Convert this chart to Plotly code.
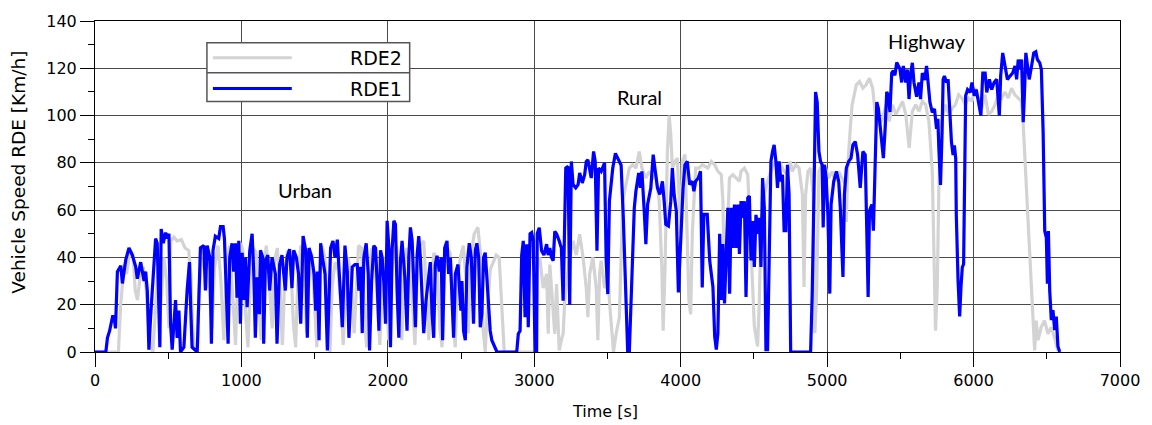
import plotly.graph_objects as go

# RDE1 (blue) — time [s], speed [km/h]
rde1_t = [0, 74, 85, 100, 120, 130, 140, 153, 176, 187, 210, 232, 255, 278, 289, 312, 335, 346, 357, 368,
          380, 391, 402, 414, 425, 436, 443, 452, 466, 482, 493, 505, 516, 527, 550, 561, 573, 584, 607, 629,
          645, 652, 663, 698, 720, 743, 754, 766, 784, 795, 806, 822, 845, 857, 875, 884, 896, 909, 920, 936,
          947, 959, 970, 982, 993, 1005, 1016, 1027, 1039, 1057, 1073, 1084, 1095, 1107, 1123, 1130, 1146, 1152, 1164, 1180,
          1193, 1209, 1232, 1243, 1261, 1277, 1300, 1311, 1329, 1345, 1357, 1375, 1390,
          1405, 1421, 1439, 1450, 1462, 1480, 1496, 1507, 1519, 1530, 1541, 1553, 1571, 1587, 1609, 1625, 1639, 1655, 1673, 1689,
          1707, 1723, 1734, 1757, 1775, 1791, 1802, 1814, 1825, 1836, 1852, 1866, 1875, 1889, 1904, 1916, 1927, 1939, 1950, 1961,
          1973, 1984, 1995, 2007, 2018, 2029, 2041, 2052, 2063, 2075, 2086, 2097, 2116, 2131, 2143, 2154, 2166, 2177, 2188, 2200,
          2211, 2222, 2234, 2245, 2261, 2279, 2290, 2302, 2313, 2324, 2336, 2352, 2365, 2374, 2388, 2404, 2415, 2427, 2438, 2449,
          2461, 2479, 2490, 2499, 2506, 2517, 2529, 2540, 2556, 2570, 2585, 2597, 2608, 2620, 2631, 2642, 2654, 2665, 2676, 2688,
          2699, 2710, 2722, 2733, 2745,
          2880, 2891, 2903, 2914, 2925, 2937, 2948, 2959, 2971, 2982, 2993, 3005, 3016, 3020, 3034, 3050, 3066, 3084, 3095, 3106,
          3118, 3129, 3140, 3152, 3170, 3185, 3197, 3208, 3215, 3231, 3242, 3253, 3265, 3283, 3299, 3310, 3328, 3344, 3355, 3366,
          3378, 3389, 3405, 3416, 3428, 3439, 3457, 3480, 3491, 3502, 3513, 3536, 3554, 3577, 3593, 3608, 3622, 3638, 3649, 3660,
          3672, 3683, 3694, 3713, 3724, 3735, 3751, 3762, 3774, 3785, 3796, 3812, 3826, 3841, 3857, 3875, 3887, 3898, 3916, 3932,
          3943, 3955, 3970, 3984, 4000, 4016, 4029, 4045, 4061, 4079, 4090, 4102, 4120, 4135, 4147, 4158, 4181,
          4198, 4209, 4220, 4232, 4243, 4254, 4266, 4277, 4288, 4299, 4311, 4322, 4334, 4345, 4356, 4367, 4379, 4390, 4401, 4412,
          4424, 4435, 4446, 4458, 4469, 4480, 4491, 4503, 4514, 4530, 4537, 4548, 4559, 4571, 4582, 4593, 4604, 4616, 4627, 4638,
          4650, 4661, 4672, 4684, 4695, 4706, 4718, 4729, 4740, 4751, 4887, 4898, 4910, 4921, 4932, 4944, 4955, 4966, 4973, 4982,
          4993, 5005, 5018, 5027, 5045, 5063, 5079, 5090, 5108, 5118, 5131, 5147, 5163, 5176, 5192, 5208, 5226, 5244, 5260, 5271,
          5280, 5289, 5305, 5316, 5328, 5339, 5350, 5362, 5373, 5384, 5396, 5407, 5418, 5429, 5441, 5452, 5463, 5475, 5497, 5509,
          5520, 5537, 5548, 5559, 5571, 5582, 5593, 5611, 5627, 5638, 5650, 5666, 5679, 5688, 5702, 5718, 5733, 5747, 5756, 5763,
          5774, 5785, 5792, 5801, 5815, 5826, 5837, 5849, 5860, 5869, 5878, 5882, 5894, 5905, 5914, 5923, 5932, 5939, 5946, 5959,
          5977, 5989, 6005, 6018, 6034, 6050, 6063, 6079, 6090, 6108, 6124, 6140, 6158, 6176, 6185, 6199, 6215, 6231, 6249, 6267,
          6283, 6294, 6305, 6316, 6328, 6339, 6346, 6357, 6366, 6380, 6396, 6411, 6425, 6436, 6452, 6463, 6475, 6486, 6497, 6504,
          6511, 6520, 6531, 6542, 6554, 6565, 6576, 6588]
rde1_v = [0, 0, 6, 9, 15, 15, 10, 34, 36.5, 29, 39, 44, 41, 36, 31, 38, 30, 34, 26, 1,
          15, 25, 39, 48, 46, 10, 2, 52, 46, 50.5, 48, 50, 12, 1, 22, 6, 17.5, 0, 2, 26,
          38, 22, 2, 0, 44, 45, 26, 45, 40, 3.5, 43, 49, 48, 53, 53, 48, 29, 3.5, 40, 46,
          34, 46, 23, 47, 12, 42, 22, 40, 19, 43, 50, 34, 6, 31.6, 16, 43, 40, 3.5, 38.6, 41,
          26, 40, 33, 3.5, 37, 41, 26, 40, 43.5, 27, 43, 40, 33,
          12, 49, 43, 6, 44, 40, 33, 17.5, 34, 5, 46, 40, 33, 0.7, 44, 47, 40, 47.5, 29, 10.5,
          45, 34, 6, 36, 37, 37, 26, 36, 8, 40, 46, 33, 0.7, 30, 45, 44, 29, 9, 43, 40,
          29, 12, 55.5, 44, 2, 43, 55.5, 54, 26, 6, 38.6, 47, 31.6, 9, 40, 52.7, 47, 26, 10.5, 41,
          49, 40, 24.7, 8, 22, 33, 38, 16, 6, 37, 40.7, 34, 40, 5, 44, 47, 33, 40, 26, 6,
          33, 37, 26, 17.5, 30, 9, 5, 36, 46, 40, 12, 43, 46, 40, 10.5, 16, 40, 42, 31.6, 22,
          9, 5, 3.5, 2, 0,
          0, 7.7, 9, 41, 47, 14.7, 45.6, 10.5, 50, 50.5, 47, 0, 0, 50, 52.6, 42.8, 41, 45.6, 41, 44,
          40, 38.6, 51, 50, 47, 44, 21.7, 63.8, 77.8, 78.5, 20, 80.6, 70.8, 69.4, 70.8, 75.7, 71.5, 75, 80.6, 81.3,
          77.8, 73.6, 84.8, 80.6, 42.8, 77.8, 76.4, 80, 38.6, 24.5, 63.8, 77.8, 84, 80.6, 79, 56.8, 24.5, 0, 0, 21.7,
          45.6, 61, 68, 75.7, 69.4, 76.4, 59.6, 45.6, 62.4, 66.6, 69.4, 83.5, 76.4, 69.4, 66.6, 72.2, 63.8, 54, 53.3, 63.8,
          77.8, 66.6, 59.6, 25.2, 47, 69.4, 79.2, 80.6, 70.8, 72.2, 68, 72.2, 73.6, 76.4, 27.3, 58.2, 58.2,
          38.7, 33, 27.5, 6.6, 1, 8, 50, 22, 45.7, 20.5, 38.7, 61, 24.7, 61, 44, 62.4, 44, 62.4, 41.5, 63.8,
          56.8, 63.8, 23.3, 65.2, 66, 38.7, 55.4, 36, 58, 50, 56.8, 36, 73.6, 61, 1, 1, 38.7, 80.6, 84.8, 87.6,
          80.6, 69.4, 80.6, 72.2, 75, 51.3, 51.3, 79.2, 66.6, 0, 0, 24.7, 66.6, 110, 105.7, 84.8, 80.6, 79.2, 52.7, 79.2,
          73.6, 58.2, 24.7, 62.4, 72.2, 76.4, 72.2, 61, 31.7, 66.6, 77.8, 80.6, 82, 87.6, 89, 83.4, 69.4, 84.8, 83.4, 38.7,
          23.3, 59.6, 62.4, 51.3, 80.6, 105.7, 103, 94.5, 86, 82, 94.5, 110, 108.5, 101.5, 118, 119, 117, 122.5, 119.7, 114,
          121, 114, 119.5, 107, 118, 122.3, 114, 108, 114, 107, 118, 115, 121, 114, 105.6, 101.4, 102.8, 94.4, 98.6, 86,
          70.7, 93, 115.3, 116.7, 114, 115.3, 100, 88.8, 83.3, 87.4, 81.9, 58.2, 30.3, 15, 27.5, 35.8, 37.2, 79, 108.4, 111,
          109.8, 114, 108.4, 111, 105.6, 100, 118, 118, 109.8, 115.3, 111, 114, 115.3, 100, 116.7, 126.5, 121, 115.3, 116.7, 118,
          121, 115.3, 123.7, 119.5, 123.7, 97.2, 107, 126.5, 122.3, 115.3, 121, 126.5, 127, 123.7, 122.3, 119.5, 93, 51.2, 48.4, 28.9,
          51.2, 26, 13.5, 17.7, 9.3, 15, 2.4, 0]

# RDE2 (grey) — time [s], speed [km/h]
rde2_t = [0, 160, 175, 190, 200, 215, 240, 260, 275, 290, 310, 330, 350, 365, 380, 395, 410, 430, 450, 470,
          490, 505, 517, 540, 560, 590, 615, 640, 655, 665, 680, 700, 710, 730, 760, 780, 800, 815, 840, 860,
          880, 900, 920, 945, 960, 975, 995, 1010, 1030, 1045, 1060, 1080, 1100, 1120, 1135, 1150, 1170, 1190, 1210, 1225,
          1245, 1265, 1280, 1295, 1315, 1335, 1355, 1370, 1385, 1405, 1425, 1445, 1460, 1480, 1500, 1515, 1530, 1550, 1570, 1590,
          1605, 1620, 1640, 1660, 1680, 1695, 1710, 1730, 1750, 1770, 1785, 1800, 1820, 1840, 1855, 1870, 1890, 1910, 1930, 1945,
          1960, 1975, 1990, 2005, 2020, 2040, 2060, 2080, 2095, 2110, 2130, 2150, 2170, 2185, 2200, 2220, 2245, 2265, 2280, 2295,
          2315, 2335, 2355, 2370, 2385, 2405, 2425, 2445, 2460, 2475, 2495, 2515, 2535, 2550, 2565, 2590, 2615, 2635, 2650, 2665,
          2680, 2700, 2720, 2740, 2760, 2770, 2785, 2795, 3010, 3020, 3038, 3061, 3084, 3095, 3106, 3118, 3140, 3152, 3170, 3185,
          3197, 3208, 3242, 3265, 3287, 3310, 3333, 3355, 3366, 3378, 3400, 3423, 3434, 3446, 3457, 3480, 3502, 3513, 3532, 3541,
          3559, 3581, 3604, 3627, 3649, 3672, 3694, 3717, 3735, 3762, 3785, 3808, 3830, 3853, 3871, 3880, 3893, 3909, 3921, 3932,
          3943, 3961, 3977, 4000, 4011, 4029, 4056, 4068, 4079, 4102, 4124, 4147, 4186, 4209, 4232, 4254, 4277, 4288, 4299, 4311,
          4333, 4356, 4379, 4401, 4412, 4435, 4458, 4469, 4480, 4492, 4503, 4514, 4525, 4537, 4548, 4571, 4593, 4616, 4638, 4661,
          4684, 4706, 4729, 4747, 4763, 4785, 4808, 4831, 4842, 4853, 4869, 4887, 4905, 4916, 4928, 4944, 4966, 4989, 5011, 5034,
          5056, 5079, 5102, 5124, 5131, 5140, 5158, 5170, 5199, 5221, 5244, 5266, 5289, 5311, 5334, 5357, 5379, 5402, 5424, 5447,
          5469, 5492, 5515, 5537, 5560, 5582, 5605, 5627, 5650, 5673, 5695, 5718, 5729, 5740, 5752, 5763, 5781, 5808, 5831, 5853,
          5876, 5898, 5921, 5943, 5966, 5989, 6011, 6034, 6056, 6079, 6101, 6124, 6147, 6169, 6192, 6214, 6237, 6259, 6282, 6305,
          6327, 6338, 6350, 6361, 6372, 6383, 6395, 6406, 6417, 6428, 6440, 6462, 6485, 6508, 6530, 6552, 6575]
rde2_v = [0, 0, 20, 30, 37, 33, 43, 41, 26, 22, 33, 36, 26, 12, 2, 0, 15, 35, 20, 40,
          30, 10, 47, 48.6, 47, 47.5, 44, 43, 33, 12, 0.7, 2, 26, 40, 33, 26, 10, 35, 45, 30,
          5, 38, 45, 20, 3, 35, 46, 43, 15, 2, 30, 44, 42, 20, 5, 35, 45, 30, 10, 38,
          44, 25, 3, 30, 43, 40, 12, 2, 30, 45, 38, 8, 30, 42, 20, 2, 33, 45, 40, 15,
          0, 28, 38, 35, 20, 3, 25, 40, 30, 8, 30, 45, 44, 15, 2, 30, 44, 40, 20, 3,
          25, 40, 28, 5, 30, 42, 45, 25, 5, 35, 44, 40, 20, 3, 30, 45, 47, 25, 5, 30,
          42, 38, 10, 2, 35, 44, 42, 15, 2, 30, 40, 45, 30, 8, 40, 50, 52.7, 40, 10, 0,
          20, 35, 38, 41, 40, 30, 10, 0, 0, 36, 40, 27, 33, 7.7, 37, 27, 7.7, 28.7, 0.7, 5,
          7.7, 21.7, 40, 47, 41, 49.8, 40, 27, 14.7, 33, 40, 27, 5, 33, 38.6, 27, 35.8, 21.7, 3.5, 0,
          7.7, 14.7, 63.8, 70.8, 77.8, 79.2, 77.8, 84.8, 77.8, 73.6, 76.4, 73.6, 75, 63.8, 35.8, 9, 35.8, 84.8, 100, 91.9,
          77.8, 80.6, 82, 50, 80.6, 83.5, 21.7, 16, 50, 77.8, 77.8, 79.2, 77.8, 80.6, 79.2, 76.4, 75, 63.8, 24.7, 38.7,
          73.6, 75, 73.6, 72.2, 76.4, 77.8, 75, 59.6, 38.7, 24.7, 10.8, 6.6, 2.4, 22, 52.7, 66.6, 72.2, 76.4, 80.6, 77.8,
          79.2, 76.4, 75, 80.6, 76.4, 79.2, 77.8, 66.6, 27.5, 66.6, 76.4, 77.8, 66.6, 8, 24.7, 76.4, 79.2, 77.8, 73.6, 76.4,
          72.2, 76.4, 73.6, 70.8, 55, 77.8, 94.5, 104.3, 113, 114.4, 111.6, 113, 115.8, 111.6, 97.5, 96, 99, 104.6, 97.5, 104.6,
          100.4, 103, 106, 100.4, 86.3, 101.8, 104.6, 101.8, 106, 104.6, 97.5, 76.5, 41.4, 9, 27.4, 69.5, 97.5, 104.6, 100.4, 103,
          104.6, 108.8, 107.4, 104.6, 107.4, 106, 111.6, 107.4, 103, 108.8, 100.4, 101.8, 104.6, 108.8, 107.4, 110, 107.4, 111.6, 108.8, 107.4,
          106, 97.5, 83.5, 69.5, 55.4, 41.4, 27.4, 13.3, 0.7, 13.3, 5, 10.5, 13.3, 7.7, 10.5, 6.3, 0.7]

x_ticks = [0, 1000, 2000, 3000, 4000, 5000, 6000, 7000]
y_ticks = [0, 20, 40, 60, 80, 100, 120, 140]
series_names = ["RDE2", "RDE1"]
series_colors = ["#d3d3d3", "#0000ff"]
phase_labels = ["Urban", "Rural", "Highway"]
phase_t = [1432, 3718, 5682]
phase_v = [68.7, 108, 131.6]

fig = go.Figure()
fig.add_trace(go.Scatter(x=rde2_t, y=rde2_v, mode="lines", name=series_names[0],
                         line=dict(color=series_colors[0], width=3.2), showlegend=False))
fig.add_trace(go.Scatter(x=rde1_t, y=rde1_v, mode="lines", name=series_names[1],
                         line=dict(color=series_colors[1], width=3.2), showlegend=False))

grid_col = "#4a4a4a"
fig.update_xaxes(range=[0, 7000], tickvals=x_ticks, ticktext=[str(v) for v in x_ticks],
                 showgrid=True, gridcolor=grid_col, gridwidth=1, zeroline=False,
                 showline=True, linecolor="black", linewidth=1, mirror=True,
                 ticks="outside", ticklen=14, tickcolor="black",
                 minor=dict(dtick=500, ticks="outside", ticklen=6, tickcolor="black", showgrid=False),
                 tickfont=dict(family="DejaVu Sans", size=16, color="black"))
fig.update_yaxes(range=[0, 140], tickvals=y_ticks, ticktext=[str(v) for v in y_ticks],
                 showgrid=True, gridcolor=grid_col, gridwidth=1, zeroline=False,
                 showline=True, linecolor="black", linewidth=1, mirror=True,
                 ticks="outside", ticklen=14, tickcolor="black",
                 minor=dict(dtick=10, ticks="outside", ticklen=6, tickcolor="black", showgrid=False),
                 tickfont=dict(family="DejaVu Sans", size=16, color="black"))

annotations = []
for lab, t, v in zip(phase_labels, phase_t, phase_v):
    annotations.append(dict(x=t, y=v, xref="x", yref="y", text=lab, showarrow=False,
                            xanchor="center", yanchor="middle",
                            font=dict(family="Lato", size=20, color="black")))
# axis titles
annotations.append(dict(x=0.498, y=-0.18, xref="paper", yref="paper", text="Time [s]", showarrow=False,
                        xanchor="center", yanchor="middle",
                        font=dict(family="DejaVu Sans", size=16, color="black")))
annotations.append(dict(x=-0.075, y=0.542, xref="paper", yref="paper", text="Vehicle Speed RDE [Km/h]",
                        textangle=-90, showarrow=False, xanchor="center", yanchor="middle",
                        font=dict(family="DejaVu Sans", size=18.5, color="black")))

# custom legend box
lx0, lx1, ly0, ly1, ymid = 0.1092, 0.307, 0.757, 0.934, 0.844
shapes = [
    dict(type="rect", xref="paper", yref="paper", x0=lx0, x1=lx1, y0=ly0, y1=ly1,
         fillcolor="white", line=dict(color="#555555", width=1.5), layer="above"),
    dict(type="line", xref="paper", yref="paper", x0=lx0, x1=lx1, y0=ymid, y1=ymid,
         line=dict(color="#555555", width=1.5), layer="above"),
    dict(type="line", xref="paper", yref="paper", x0=0.115, x1=0.192, y0=0.889, y1=0.889,
         line=dict(color=series_colors[0], width=3), layer="above"),
    dict(type="line", xref="paper", yref="paper", x0=0.115, x1=0.192, y0=0.796, y1=0.796,
         line=dict(color=series_colors[1], width=3), layer="above"),
]
annotations.append(dict(x=0.301, y=0.889, xref="paper", yref="paper", text=series_names[0],
                        xanchor="right", yanchor="middle", showarrow=False,
                        font=dict(family="DejaVu Sans", size=19, color="black")))
annotations.append(dict(x=0.301, y=0.796, xref="paper", yref="paper", text=series_names[1],
                        xanchor="right", yanchor="middle", showarrow=False,
                        font=dict(family="DejaVu Sans", size=19, color="black")))

fig.update_layout(width=1152, height=425, margin=dict(l=95, r=31, t=18, b=73),
                  plot_bgcolor="white", paper_bgcolor="white",
                  annotations=annotations, shapes=shapes, showlegend=False)

fig.write_html("out.html")
